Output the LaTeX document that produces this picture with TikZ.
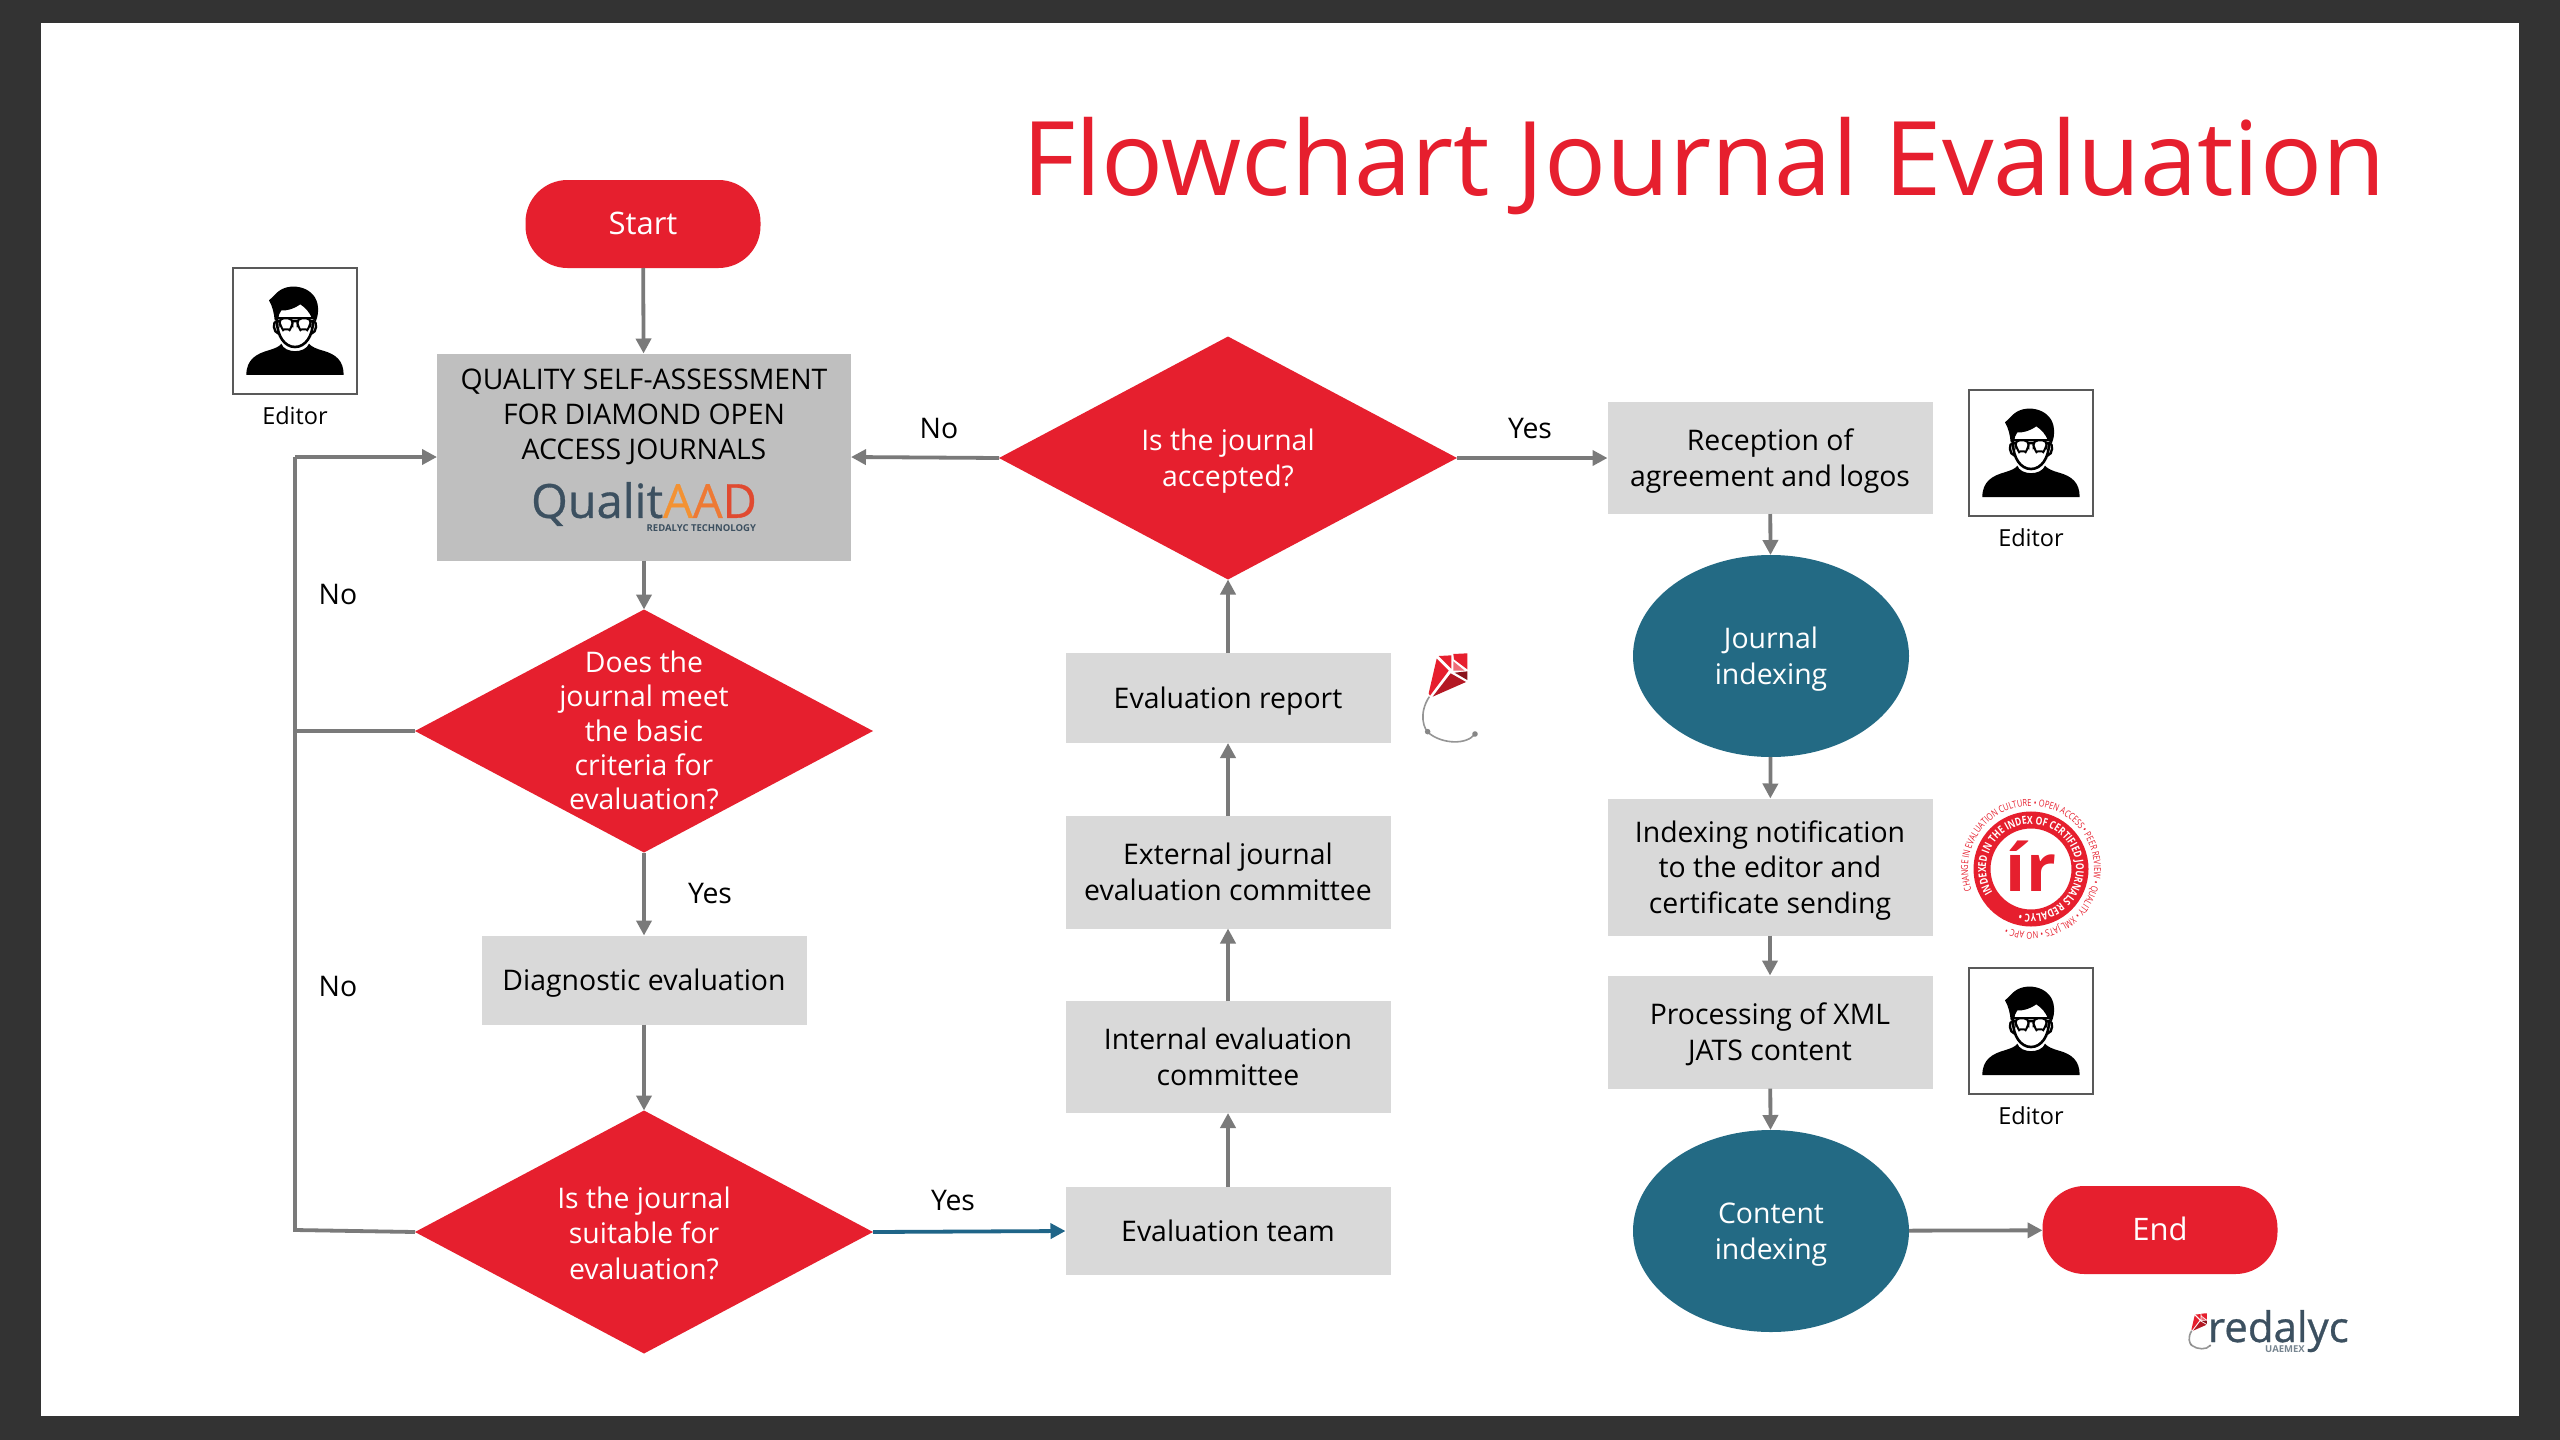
\documentclass[tikz,border=0pt]{standalone}
\usepackage{fontspec}
\setmainfont{Open Sans}
\newfontfamily\badgefont[FakeStretch=0.78]{Open Sans}
\newfontfamily\logofont[FakeBold=0.7]{Open Sans}
\usetikzlibrary{shapes.geometric,arrows.meta,decorations.text}
\definecolor{rred}{HTML}{E61F2E}
\definecolor{rteal}{HTML}{236A84}
\definecolor{rbox}{HTML}{D9D9D9}
\definecolor{rqual}{HTML}{BFBFBF}
\definecolor{rline}{HTML}{7A7A7A}
\definecolor{rblue}{HTML}{1F6588}
\definecolor{rslate}{HTML}{3C5060}
\newcommand{\bodysize}{\fontsize{28.4}{35.5}\selectfont}
\tikzset{
  x=1pt,y=-1pt,
  base/.style={inner sep=0pt,outer sep=0pt,align=center,font=\bodysize},
  centred/.style={execute at begin node={\rule{0pt}{28pt}},execute at end node={\rule[-8pt]{0pt}{0pt}}},
  ml/.style={execute at begin node={\rule{0pt}{#1pt}}},
  startend/.style={base,centred,rectangle,rounded corners=42pt,fill=rred,text=white,minimum width=235pt,minimum height=88pt,font=\fontsize{31}{36}\selectfont},
  greybox/.style={base,centred,rectangle,fill=rbox,text=black},
  dmd/.style={base,diamond,fill=rred,aspect=1.885,minimum width=458pt,minimum height=243pt},
  dtext/.style={base,centred,text=white},
  oval/.style={base,centred,ellipse,fill=rteal,text=white,minimum width=276pt,minimum height=202pt},
  lbl/.style={base,text=black},
  small/.style={base,font=\fontsize{23.5}{28}\selectfont},
  conn/.style={draw=rline,line width=3.8pt,-{Triangle[length=15pt,width=15pt]}},
  plain/.style={draw=rline,line width=3.8pt},
  connblue/.style={draw=rblue,line width=3.8pt,-{Triangle[length=15pt,width=15pt]}},
  editor/.pic={
    \begin{scope}[x=0.3333pt,y=-0.3333pt,shift={(-246,-220)}]
      \draw[draw=black!65,line width=2pt,fill=white] (60,32) rectangle (432,408);
      \fill[black] (100,352) .. controls (100,305) and (130,288) .. (170,277) .. controls (185,272) and (198,268) .. (205,258)
        .. controls (215,288) and (277,288) .. (288,258) .. controls (296,268) and (312,274) .. (330,279)
        .. controls (370,290) and (392,310) .. (392,352) -- cycle;
      \draw[black,line width=2.6pt,fill=white] (192,190) .. controls (192,235) and (215,268) .. (246,268) .. controls (277,268) and (300,235) .. (300,190) -- cycle;
      \draw[black,line width=2.4pt] (192,190) .. controls (178,190) and (180,225) .. (197,228);
      \draw[black,line width=2.4pt] (300,190) .. controls (314,190) and (312,225) .. (295,228);
      \fill[black] (168,128) .. controls (180,118) and (190,105) .. (198,100) .. controls (235,72) and (312,88) .. (315,150)
        .. controls (316,165) and (314,178) .. (308,192) -- (297,182) .. controls (290,165) and (278,150) .. (262,140)
        .. controls (240,155) and (218,160) .. (205,158) .. controls (198,165) and (197,175) .. (196,186) -- (185,188) .. controls (183,165) and (178,145) .. (168,128) -- cycle;
      \draw[black,line width=2pt,fill=white,rounded corners=5pt] (197,182) -- (240,182) -- (238,205) .. controls (232,214) and (208,214) .. (202,205) -- cycle;
      \draw[black,line width=2pt,fill=white,rounded corners=5pt] (252,182) -- (295,182) -- (291,205) .. controls (285,214) and (260,214) .. (254,205) -- cycle;
      \draw[black,line width=2.2pt] (187,182) -- (305,182);
    \end{scope}
  },
  kite/.pic={
    \begin{scope}[x=0.3333pt,y=-0.3333pt]
      \draw[rline!80,line width=1.6pt] (148,200) .. controls (115,250) and (130,300) .. (150,312) .. controls (190,342) and (260,345) .. (285,312);
      \fill[rline!90] (143,305) circle[radius=2.8pt];
      \fill[rline!90] (285,312) circle[radius=2.8pt];
      \fill[rred] (170,86) -- (206,122) -- (150,197) -- (146,190) -- cycle;
      \fill[rred] (176,78) -- (214,76) -- (214,116) -- cycle;
      \fill[rred] (220,72) -- (262,70) -- (262,118) -- (222,88) -- cycle;
      \fill[rred!65!white] (220,94) -- (254,122) -- (220,122) -- cycle;
      \fill[rred!60!black] (224,128) -- (262,124) -- (262,150) -- cycle;
      \fill[rred!78!black] (212,130) -- (258,156) -- (158,200) -- cycle;
    \end{scope}
  }
}
\begin{document}
\begin{tikzpicture}
\useasboundingbox (0,0) rectangle (2560,1440);
\fill[fill={rgb,255:red,51;green,51;blue,51}] (0,0) rectangle (2560,1440);
\fill[white] (41,23) rectangle (2519,1416);

\node[base,anchor=center,text=rred,font=\fontsize{103}{116}\selectfont] (title) at (1704,166) {Flowchart Journal Evaluation};

% left column
\node[startend] (start) at (643,224) {Start};
\node[greybox,fill=rqual,minimum width=414pt,minimum height=207pt] (qual) at (644,457) {};
\node[lbl,anchor=north,font=\fontsize{28.4}{35}\selectfont] (qualtext) at (644,369) {QUALITY SELF-ASSESSMENT\\FOR DIAMOND OPEN\\ACCESS JOURNALS};
\node[base,anchor=center,font=\logofont\fontsize{47}{50}\selectfont] (quallogo) at (644,504) {\textcolor{rslate}{Qualit}\textcolor[HTML]{F39233}{A}\textcolor[HTML]{EE7A35}{A}\textcolor[HTML]{E04A30}{D}};
\node[base,anchor=east,text=rslate,font=\fontsize{9.5}{10}\selectfont\bfseries] (qualsub) at (756,528) {REDALYC TECHNOLOGY};
\node[dmd] (d1) at (644,731) {};
\node[dtext,ml=165,font=\fontsize{28.4}{34.2}\selectfont] (d1t) at (644,731) {Does the\\journal meet\\the basic\\criteria for\\evaluation?};
\node[greybox,minimum width=325pt,minimum height=89pt] (diag) at (644,980) {Diagnostic evaluation};
\node[dmd] (d3) at (644,1232) {};
\node[dtext,ml=102] (d3t) at (644,1232) {Is the journal\\suitable for\\evaluation?};

% middle column
\node[greybox,minimum width=325pt,minimum height=88pt] (team) at (1228,1231) {Evaluation team};
\node[greybox,ml=64,minimum width=325pt,minimum height=112pt] (internal) at (1228,1057) {Internal evaluation\\committee};
\node[greybox,ml=64,minimum width=325pt,minimum height=113pt] (external) at (1228,872) {External journal\\evaluation committee};
\node[greybox,minimum width=325pt,minimum height=90pt] (report) at (1228,698) {Evaluation report};
\node[dmd] (d2) at (1228,458) {};
\node[dtext,ml=64] (d2t) at (1228,458) {Is the journal\\accepted?};

% right column
\node[greybox,ml=64,minimum width=325pt,minimum height=112pt] (recep) at (1770,458) {Reception of\\agreement and logos};
\node[oval,ml=64] (jidx) at (1771,656) {Journal\\indexing};
\node[greybox,ml=100,minimum width=325pt,minimum height=137pt] (notif) at (1770,867) {Indexing notification\\to the editor and\\certificate sending};
\node[greybox,ml=64,minimum width=325pt,minimum height=113pt] (proc) at (1770,1032) {Processing of XML\\JATS content};
\node[oval,ml=64] (cidx) at (1771,1231) {Content\\indexing};
\node[startend] (endn) at (2160,1230) {End};

% connectors
\coordinate (lb) at (295,1230);
\coordinate (lt) at (295,457);
\draw[conn] (start) -- (qual);
\draw[conn] (qual) -- (d1.north);
\draw[conn] (d1.south) -- (diag.north);
\draw[conn] (diag) -- (d3.north);
\draw[plain] (d1.west) -- (lb |- d1.west);
\draw[plain] (d3.west) -- (lb) -- (lt);
\draw[conn] (lt) -- (qual.west);
\draw[connblue] (d3.east) -- (team.west);
\draw[conn] (team) -- (internal);
\draw[conn] (internal) -- (external);
\draw[conn] (external) -- (report);
\draw[conn] (report) -- (d2.south);
\draw[conn] (d2.west) -- (qual.east);
\draw[conn] (d2.east) -- (recep.west);
\draw[conn] (recep) -- (jidx);
\draw[conn] (jidx) -- (notif);
\draw[conn] (notif) -- (proc);
\draw[conn] (proc) -- (cidx);
\draw[conn] (cidx) -- (endn);

% connector labels
\node[lbl] (no1) at (338,594) {No};
\node[lbl] (no2) at (338,986) {No};
\node[lbl] (yes1) at (710,893) {Yes};
\node[lbl] (no3) at (939,428) {No};
\node[lbl] (yes2) at (1530,428) {Yes};
\node[lbl] (yes3) at (953,1200) {Yes};

% editors
\pic at (295,331) {editor};
\node[small] (ed1) at (295,416) {Editor};
\pic at (2031,453) {editor};
\node[small] (ed2) at (2031,538) {Editor};
\pic at (2031,1031) {editor};
\node[small] (ed3) at (2031,1116) {Editor};

% kite
\pic at (1380,630) {kite};

% badge
\coordinate (bdg) at (2031,869);
\draw[rred,line width=17pt] (bdg) circle[radius=49pt];
\node[base,text=rred,font=\fontsize{66}{66}\selectfont\bfseries] (ir) at (2031,866) {ír};
\path[decorate,decoration={text along path,text align=center,
  text={|\badgefont\bfseries\fontsize{11}{12}\selectfont\color{white}|INDEXED IN THE INDEX OF CERTIFIED JOURNALS REDALYC •}}]
  (bdg) ++(232:45pt) arc[start angle=232,end angle=-125,radius=45pt];
\path[decorate,decoration={text along path,text align=center,
  text={|\badgefont\fontsize{9.6}{10}\selectfont\color{rred}|CHANGE IN EVALUATION CULTURE • OPEN ACCESS • PEER REVIEW • QUALITY • XML JATS • NO APC •}}]
  (bdg) ++(222:63pt) arc[start angle=222,end angle=-135,radius=63pt];

% redalyc logo
\pic[scale=0.4] at (2172,1304) {kite};
\node[base,anchor=base west,text=rslate,font=\logofont\fontsize{42}{50}\selectfont] (rlogo) at (2208,1342) {redalyc};
\node[base,text=rslate!70,font=\fontsize{9.5}{10}\selectfont\bfseries] (rsub) at (2285,1349) {UAEMEX};
\end{tikzpicture}
\end{document}
